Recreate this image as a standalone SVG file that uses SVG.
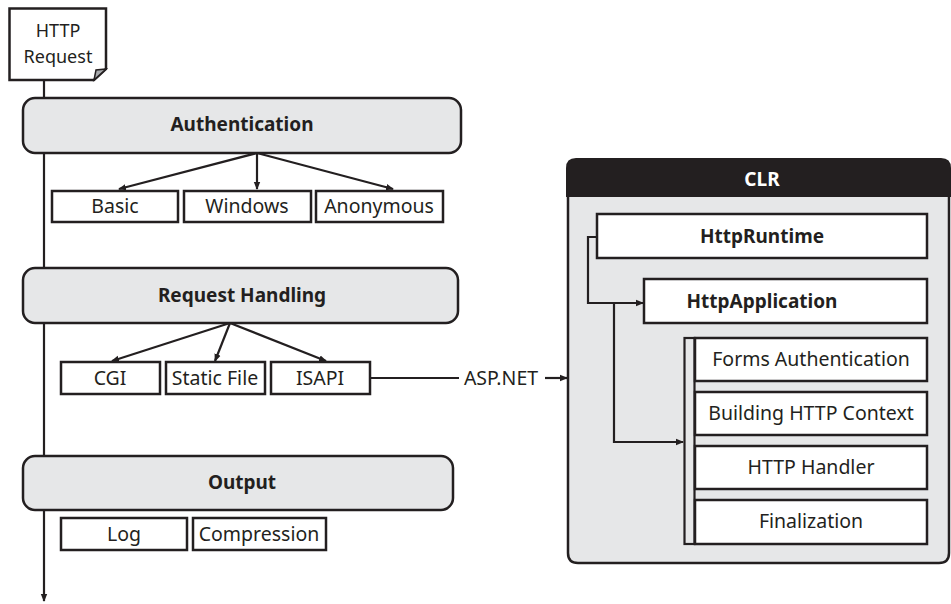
<svg xmlns="http://www.w3.org/2000/svg" width="951" height="604" viewBox="0 0 951 604">
<defs>
<marker id="ah" markerWidth="8" markerHeight="8" refX="7" refY="4" orient="auto" markerUnits="userSpaceOnUse">
<path d="M0,0.8 L8,4 L0,7.2 Z" fill="#231f20"/>
</marker>
<style>
.ln{stroke:#231f20;stroke-width:2.2;fill:none}
.stage{fill:#e6e7e8;stroke:#231f20;stroke-width:2.5}
.box{fill:#fff;stroke:#231f20;stroke-width:2.5}
.t{font-family:"Noto Sans","Open Sans","Liberation Sans",sans-serif;font-size:19.5px;fill:#231f20;text-anchor:middle}
.b{font-weight:bold;font-size:19px}
.w{fill:#fff}
.s{font-size:18px}
</style>
</defs>
<rect width="951" height="604" fill="#fff"/>

<g id="connectors">
<line class="ln" x1="44" y1="75" x2="44" y2="601" marker-end="url(#ah)"/>
<line class="ln" x1="257" y1="153" x2="119" y2="189" marker-end="url(#ah)"/>
<line class="ln" x1="257" y1="153" x2="257" y2="189" marker-end="url(#ah)"/>
<line class="ln" x1="257" y1="153" x2="393" y2="189" marker-end="url(#ah)"/>
<line class="ln" x1="230" y1="323" x2="112" y2="361" marker-end="url(#ah)"/>
<line class="ln" x1="230" y1="323" x2="215" y2="361" marker-end="url(#ah)"/>
<line class="ln" x1="230" y1="323" x2="326" y2="361" marker-end="url(#ah)"/>
<line class="ln" x1="371" y1="378" x2="459" y2="378"/>
<line class="ln" x1="545" y1="378" x2="567" y2="378" marker-end="url(#ah)"/>
</g>

<g id="http-request">
<path class="box" d="M9.5,8.5 H106 V69 L94,80 H9.5 Z" stroke-linejoin="miter"/>
<path d="M94,80 L96,70 L106,69 Z" fill="#a7a9ac" stroke="#231f20" stroke-width="1.5"/>
<text class="t s" x="58" y="37">HTTP</text>
<text class="t s" x="58" y="63">Request</text>
</g>

<g id="authentication">
<rect class="stage" x="23" y="98" width="438" height="55" rx="12"/>
<text class="t b" x="242" y="131">Authentication</text>
</g>
<g id="basic"><rect class="box" x="52" y="191" width="126" height="31"/><text class="t" x="115" y="213">Basic</text></g>
<g id="windows"><rect class="box" x="184" y="191" width="127" height="31"/><text class="t" x="247" y="213">Windows</text></g>
<g id="anonymous"><rect class="box" x="316" y="191" width="127" height="31"/><text class="t" x="379" y="213">Anonymous</text></g>

<g id="request-handling">
<rect class="stage" x="23" y="268" width="435" height="55" rx="12"/>
<text class="t b" x="242" y="302">Request Handling</text>
</g>
<g id="cgi"><rect class="box" x="61" y="362" width="99" height="32"/><text class="t" x="110" y="385">CGI</text></g>
<g id="static-file"><rect class="box" x="166" y="362" width="99" height="32"/><text class="t" x="215" y="385">Static File</text></g>
<g id="isapi"><rect class="box" x="271" y="362" width="99" height="32"/><text class="t" x="320" y="385">ISAPI</text></g>
<g id="aspnet-label"><text class="t" x="501" y="385">ASP.NET</text></g>

<g id="output">
<rect class="stage" x="23" y="456" width="430" height="54" rx="12"/>
<text class="t b" x="242" y="489">Output</text>
</g>
<g id="log"><rect class="box" x="61" y="518" width="126" height="32"/><text class="t" x="124" y="541">Log</text></g>
<g id="compression"><rect class="box" x="193" y="518" width="133" height="32"/><text class="t" x="259" y="541">Compression</text></g>

<g id="clr">
<path d="M568,190 H949 V553 Q949,563 939,563 H578 Q568,563 568,553 Z" fill="#e6e7e8" stroke="#231f20" stroke-width="2.5"/>
<path d="M566,197 V168 Q566,158 576,158 H941 Q951,158 951,168 V197 Z" fill="#231f20"/>
<text class="t b w" x="762" y="186">CLR</text>
</g>

<g id="clr-connectors">
<polyline class="ln" points="597,237 588,237 588,303 643,303" marker-end="url(#ah)"/>
<polyline class="ln" points="614,303 614,442 683,442" marker-end="url(#ah)"/>
</g>

<g id="httpruntime"><rect class="box" x="597" y="214" width="330" height="44"/><text class="t b" x="762" y="243">HttpRuntime</text></g>
<g id="httpapplication"><rect class="box" x="644" y="279" width="283" height="44"/><text class="t b" x="762" y="308">HttpApplication</text></g>

<g id="pipeline">
<rect x="684.5" y="338" width="10" height="206" fill="none" stroke="#231f20" stroke-width="2.2"/>
</g>
<g id="forms-auth"><rect class="box" x="695" y="338" width="232" height="43"/><text class="t" x="811" y="366">Forms Authentication</text></g>
<g id="building-context"><rect class="box" x="695" y="392" width="232" height="43"/><text class="t" x="811" y="420">Building HTTP Context</text></g>
<g id="http-handler"><rect class="box" x="695" y="446" width="232" height="43"/><text class="t" x="811" y="474">HTTP Handler</text></g>
<g id="finalization"><rect class="box" x="695" y="500" width="232" height="44"/><text class="t" x="811" y="528">Finalization</text></g>
</svg>
